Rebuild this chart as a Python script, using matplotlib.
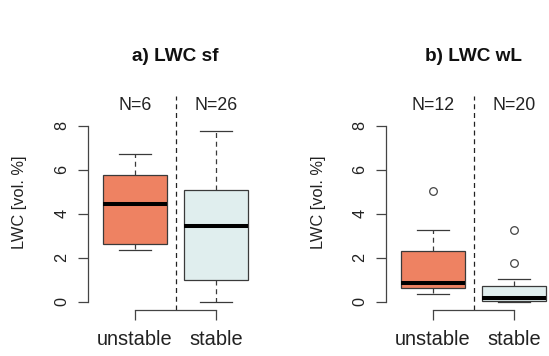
import matplotlib
matplotlib.use("Agg")
import matplotlib.pyplot as plt

plt.rcParams['font.family'] = ['Liberation Sans', 'DejaVu Sans']

groups = ["unstable", "stable"]
titles = ["a) LWC sf", "b) LWC wL"]
counts_sf = [6, 26]
counts_wl = [12, 20]

# five-number summaries: whislo, q1, med, q3, whishi
sf_unstable = [2.35, 2.62, 4.42, 5.76, 6.70]
sf_stable = [0.0, 0.98, 3.45, 5.06, 7.77]
wl_unstable = [0.33, 0.61, 0.86, 2.30, 3.26]
wl_stable = [0.0, 0.05, 0.18, 0.71, 1.02]
sf_unstable_out = []
sf_stable_out = []
wl_unstable_out = [5.03]
wl_stable_out = [1.74, 3.26]

yticks = [0, 2, 4, 6, 8]

box_colors = ["#EE8262", "#E0EEEE"]
edge = "#3a3a3a"


def make_stats(summary, fliers, label):
    lo, q1, med, q3, hi = summary
    return dict(whislo=lo, q1=q1, med=med, q3=q3, whishi=hi,
                fliers=fliers, label=label)


W, H = 549, 356
fig = plt.figure(figsize=(W / 100, H / 100), dpi=100)

# plot regions in pixels (left, top, right, bottom)
regions = [(88, 95.8, 263, 309.6), (386, 95.8, 561, 309.6)]

panels = [
    ([make_stats(sf_unstable, sf_unstable_out, groups[0]),
      make_stats(sf_stable, sf_stable_out, groups[1])], counts_sf),
    ([make_stats(wl_unstable, wl_unstable_out, groups[0]),
      make_stats(wl_stable, wl_stable_out, groups[1])], counts_wl),
]

for i, (stats, counts) in enumerate(panels):
    l, t, r, b = regions[i]
    ax = fig.add_axes([l / W, (H - b) / H, (r - l) / W, (b - t) / H])
    ax.set_facecolor("none")

    bp = ax.bxp(stats, positions=[1, 2], widths=0.8, patch_artist=True,
                capwidths=0.4,
                boxprops=dict(edgecolor=edge, linewidth=0.9),
                whiskerprops=dict(color=edge, linewidth=0.9,
                                  linestyle=(0, (4, 3))),
                capprops=dict(color=edge, linewidth=0.9),
                medianprops=dict(color="black", linewidth=2.9,
                                 solid_capstyle="butt"),
                flierprops=dict(marker="o", markerfacecolor="none",
                                markeredgecolor="#444444", markersize=5.5,
                                markeredgewidth=0.9))
    for patch, c in zip(bp["boxes"], box_colors):
        patch.set_facecolor(c)

    ax.axvline(1.5, color="#222222", linewidth=0.9, linestyle=(0, (4, 3)))

    ax.set_xlim(0.42, 2.58)
    ax.set_ylim(-0.36, 9.36)

    for s in ["top", "right"]:
        ax.spines[s].set_visible(False)
    ax.spines["left"].set_bounds(0, 8)
    ax.spines["bottom"].set_bounds(1, 2)
    for s in ["left", "bottom"]:
        ax.spines[s].set_color("#444444")
        ax.spines[s].set_linewidth(0.9)

    ax.set_yticks(yticks)
    ax.set_yticklabels([str(v) for v in yticks], rotation=90, va="center",
                       fontsize=11.7, color="#222222")
    ax.set_xticks([1, 2])
    ax.set_xticklabels(groups, fontsize=14.4, color="#222222")
    ax.tick_params(axis="y", direction="out", length=7.5, width=0.9,
                   color="#444444", pad=6)
    ax.tick_params(axis="x", direction="out", length=7.5, width=0.9,
                   color="#444444", pad=7)

    # y label sits 68 px left of the axis line
    ax.text(-68 / (r - l), 0.5, "LWC [vol. %]", transform=ax.transAxes,
            rotation=90, ha="center", va="center", fontsize=11.8,
            color="#222222")
    ax.text(0.5, (b - 56.7) / (b - t), titles[i], transform=ax.transAxes,
            ha="center", va="center", fontsize=13.7, fontweight="bold",
            color="#111111")
    for x, n in zip([1, 2], counts):
        ax.text(x, 8.94, "N=%d" % n, ha="center", va="center",
                fontsize=12.8, color="#222222")

fig.savefig("out.png", dpi=100)
